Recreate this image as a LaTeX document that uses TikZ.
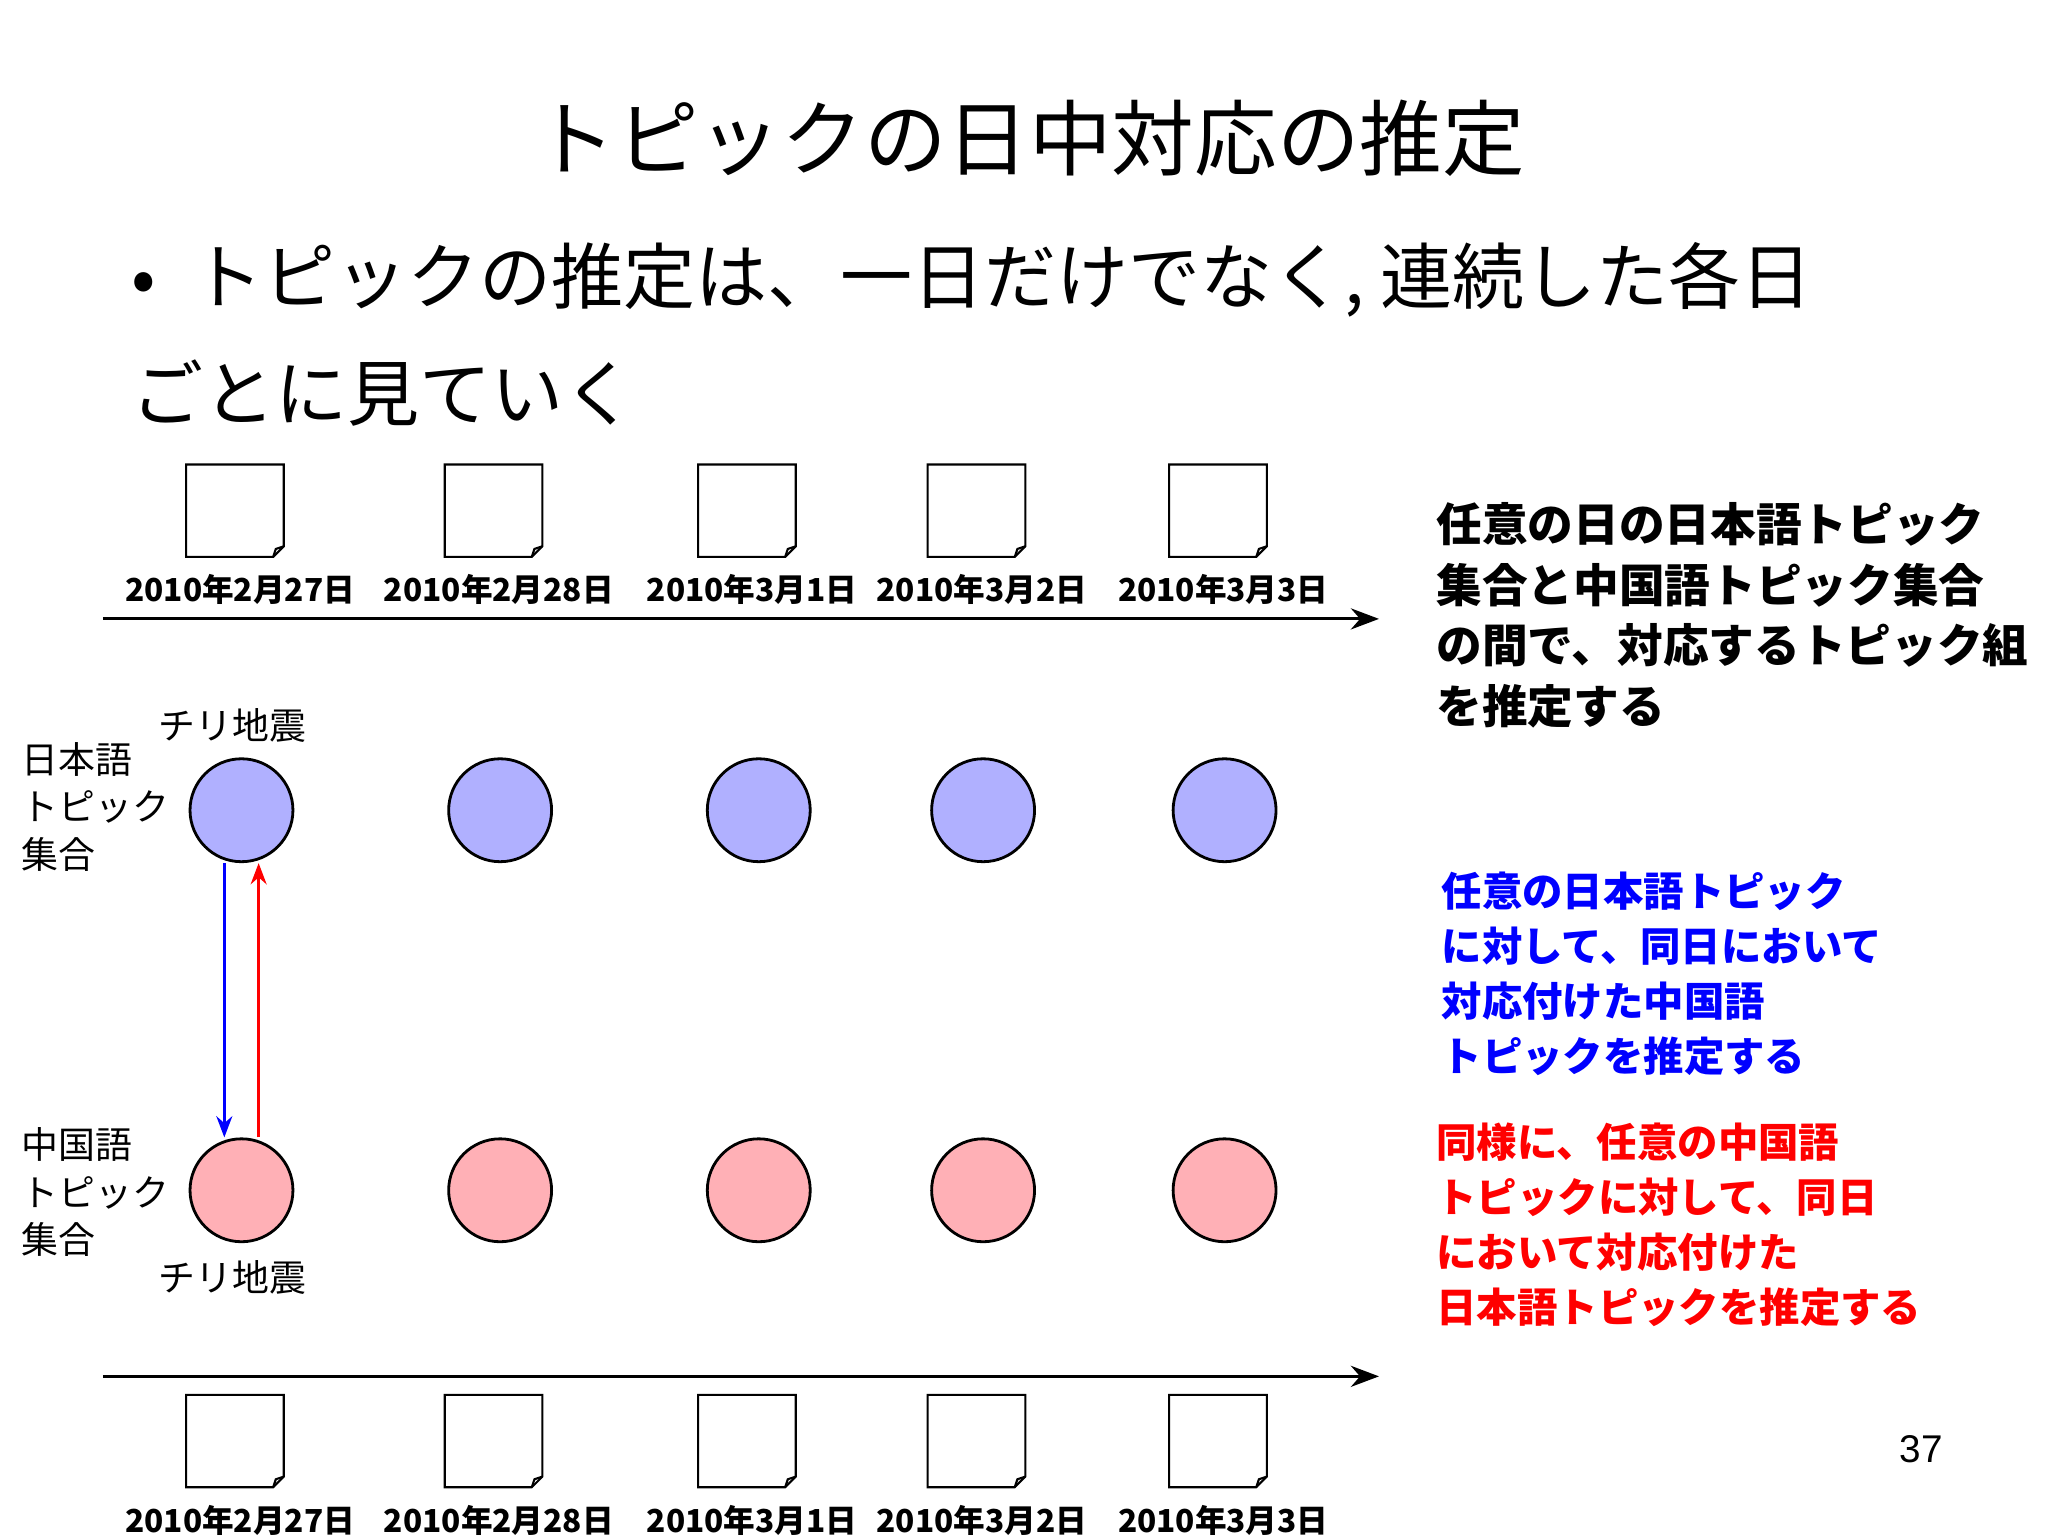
\documentclass[tikz,border=0pt]{standalone}
\usepackage{fontspec}
\setmainfont{Liberation Sans}
\newfontfamily\jp{Noto Sans CJK JP}
\usetikzlibrary{arrows.meta}
\definecolor{jpc}{RGB}{176,176,255}
\definecolor{cnc}{RGB}{255,176,182}
\tikzset{x=0.0132cm,y=-0.0132cm,
 dt/.style={font=\jp\bfseries\fontsize{9}{11}\selectfont},
 tp/.style={circle,draw,line width=0.8pt,minimum size=78*0.0132cm,inner sep=0pt},
 lab/.style={font=\jp\fontsize{10.5}{13.5}\selectfont,align=left},
 rt/.style={anchor=north west,inner sep=0pt,align=left},
}
\newcommand{\docicon}[2]{%
 \draw[line width=0.6pt,fill=white] (#1-37,#2-35) -- (#1+37,#2-35) -- (#1+37,#2+27) -- (#1+29,#2+35) -- (#1-37,#2+35) -- cycle;
 \draw[line width=0.6pt] (#1+37,#2+27) -- (#1+31,#2+29) -- (#1+29,#2+35);}
\begin{document}
\begin{tikzpicture}
\useasboundingbox (0,0) rectangle (1552,1164);
\fill[white] (0,0) rectangle (1552,1164);
\node (title) at (780,105) {\jp\fontsize{23.5}{26}\selectfont トピックの日中対応の推定};
\node[anchor=west] (b1) at (90,212) {\jp\fontsize{20.5}{24}\selectfont •\hspace{0.5em}トピックの推定は、一日だけでなく, 連続した各日};
\node[anchor=west] (b2) at (90,298) {\jp\fontsize{20.5}{24}\selectfont ごとに見ていく};
\foreach \x/\d [count=\i] in {178/2010年2月27日,374/2010年2月28日,566/2010年3月1日,740/2010年3月2日,923/2010年3月3日}{
 \docicon{\x}{387}
 \node[dt] (dt\i) at (\x+4,447) {\d};
 \docicon{\x}{1092}
 \node[dt] (db\i) at (\x+4,1152) {\d};
}
\coordinate (a1s) at (78,469); \coordinate (a1e) at (1045,469);
\coordinate (a2s) at (78,1043); \coordinate (a2e) at (1045,1043);
\draw[-{Stealth[length=8pt]},line width=0.8pt] (a1s) -- (a1e);
\draw[-{Stealth[length=8pt]},line width=0.8pt] (a2s) -- (a2e);
\foreach \x [count=\i] in {183,379,575,745,928}{
 \node[tp,fill=jpc] (j\i) at (\x,614) {};
 \node[tp,fill=cnc] (c\i) at (\x,902) {};
}
\draw[blue,line width=1pt,-{Stealth[length=6pt]}] ([xshift=-13*0.0132cm]j1.south) -- ([xshift=-13*0.0132cm]c1.north);
\draw[red,line width=1pt,-{Stealth[length=6pt]}] ([xshift=13*0.0132cm]c1.north) -- ([xshift=13*0.0132cm]j1.south);
\node[lab] (q1) at (176,550) {チリ地震};
\node[lab] (q2) at (176,968) {チリ地震};
\node[lab,anchor=north west,inner sep=0pt] (ljp) at (16,562) {日本語\\トピック\\集合};
\node[lab,anchor=north west,inner sep=0pt] (lcn) at (16,854) {中国語\\トピック\\集合};
\node[rt,font=\jp\bfseries\fontsize{13}{17.3}\selectfont] (t1) at (1088,380) {任意の日の日本語トピック\\集合と中国語トピック集合\\の間で、対応するトピック組\\を推定する};
\node[rt,text=blue,font=\jp\bfseries\fontsize{11.5}{15.7}\selectfont] (t2) at (1092,660) {任意の日本語トピック\\に対して、同日において\\対応付けた中国語\\トピックを推定する};
\node[rt,text=red,font=\jp\bfseries\fontsize{11.5}{15.7}\selectfont] (t3) at (1088,850) {同様に、任意の中国語\\トピックに対して、同日\\において対応付けた\\日本語トピックを推定する};
\node (pg) at (1456,1098) {\fontsize{11}{13}\selectfont 37};
\end{tikzpicture}
\end{document}
